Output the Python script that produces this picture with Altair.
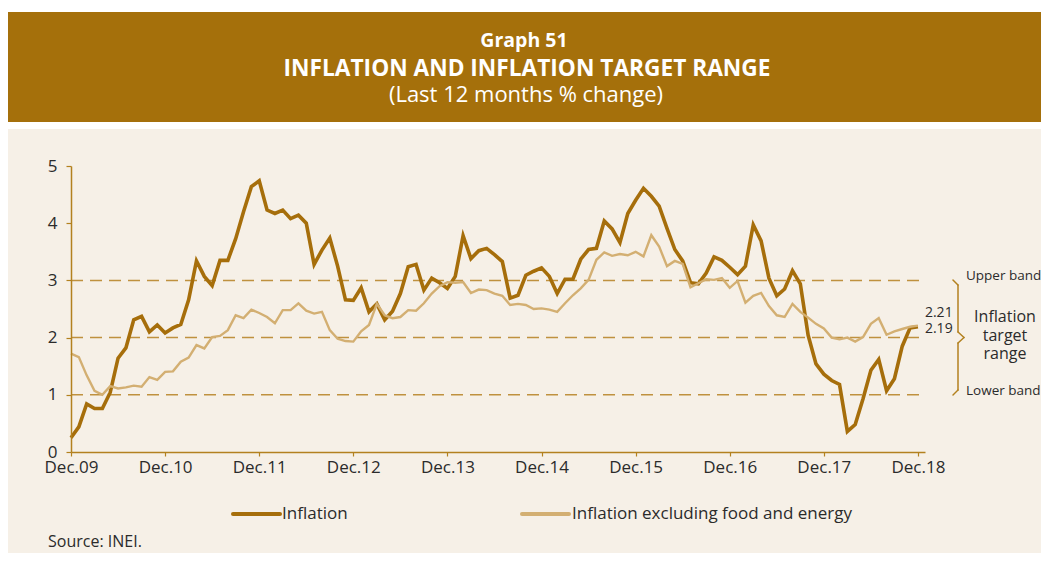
import altair as alt
import pandas as pd

# ---------------- data ----------------
months = list(range(109))  # months since Dec.09
inflation = [0.25, 0.44, 0.84, 0.76, 0.76, 1.04, 1.64, 1.82, 2.31, 2.37, 2.10, 2.22,
             2.08, 2.17, 2.23, 2.66, 3.34, 3.07, 2.91, 3.35, 3.35, 3.73, 4.20, 4.64,
             4.74, 4.23, 4.17, 4.23, 4.08, 4.14, 4.00, 3.28, 3.53, 3.74, 3.25, 2.66,
             2.65, 2.87, 2.45, 2.59, 2.31, 2.46, 2.77, 3.24, 3.28, 2.83, 3.04, 2.96,
             2.86, 3.07, 3.78, 3.38, 3.52, 3.56, 3.45, 3.33, 2.69, 2.74, 3.09, 3.16,
             3.22, 3.07, 2.77, 3.02, 3.02, 3.37, 3.54, 3.56, 4.04, 3.90, 3.66, 4.17,
             4.40, 4.61, 4.47, 4.30, 3.91, 3.54, 3.34, 2.96, 2.94, 3.13, 3.41, 3.35,
             3.23, 3.10, 3.25, 3.97, 3.69, 3.04, 2.73, 2.85, 3.17, 2.94, 2.04, 1.54,
             1.36, 1.25, 1.18, 0.36, 0.48, 0.93, 1.43, 1.62, 1.07, 1.28, 1.85, 2.17,
             2.19]
core = [1.72, 1.66, 1.34, 1.07, 1.00, 1.15, 1.11, 1.13, 1.16, 1.14, 1.31, 1.26,
        1.40, 1.41, 1.58, 1.65, 1.87, 1.81, 2.01, 2.03, 2.13, 2.39, 2.34, 2.49,
        2.43, 2.36, 2.25, 2.48, 2.48, 2.60, 2.47, 2.42, 2.45, 2.13, 1.98, 1.94,
        1.93, 2.11, 2.22, 2.59, 2.39, 2.34, 2.36, 2.48, 2.47, 2.60, 2.77, 2.90,
        2.97, 2.96, 2.97, 2.78, 2.84, 2.83, 2.77, 2.73, 2.57, 2.59, 2.57, 2.50,
        2.51, 2.49, 2.45, 2.60, 2.74, 2.86, 3.01, 3.36, 3.49, 3.43, 3.46, 3.44,
        3.50, 3.42, 3.79, 3.59, 3.25, 3.34, 3.29, 2.88, 2.95, 3.02, 3.01, 3.04,
        2.87, 2.99, 2.61, 2.73, 2.78, 2.55, 2.39, 2.36, 2.59, 2.45, 2.35, 2.24,
        2.16, 2.00, 1.97, 2.00, 1.93, 2.01, 2.24, 2.34, 2.05, 2.11, 2.15, 2.19,
        2.21]
series_names = ["Inflation", "Inflation excluding food and energy"]
band_values = [1, 2, 3]
tick_months = list(range(0, 109, 12))
y_ticks = [0, 1, 2, 3, 4, 5]

# ---------------- style ----------------
FONT = "Open Sans"
DARK = "#A66E0B"
LIGHT = "#D3AF72"
BROWN_AXIS = "#B3811F"
DASH = "#BF913F"
HEADER = "#A5700B"
BEIGE = "#F6F0E7"
TXT = "#2B2B2B"

W, H = 854, 286

df_inf = pd.DataFrame({"m": months, "v": inflation, "s": series_names[0]})
df_core = pd.DataFrame({"m": months, "v": core, "s": series_names[1]})
df_band = pd.DataFrame({"v": band_values})
one = pd.DataFrame({"k": [0]})

x_scale = alt.Scale(domain=[0, 108.9], nice=False, zero=False)
y_scale = alt.Scale(domain=[0, 5], nice=False)
x_axis = alt.Axis(values=tick_months, title=None, grid=False, zindex=2,
                  labelExpr="'Dec.' + format(9 + datum.value / 12, '02d')",
                  domainColor=BROWN_AXIS, domainWidth=1.5, tickColor=BROWN_AXIS,
                  tickSize=4, tickWidth=1.2, labelPadding=3, labelFont=FONT,
                  labelFontSize=17, labelColor=TXT, labelFlush=False)
y_axis = alt.Axis(values=y_ticks, title=None, grid=False, format="d", zindex=2,
                  domainColor=BROWN_AXIS, domainWidth=1.5, tickColor=BROWN_AXIS,
                  tickSize=5, tickWidth=1.2, labelPadding=9, labelFont=FONT,
                  labelFontSize=17, labelColor=TXT)
X = alt.X("m:Q", scale=x_scale, axis=x_axis)
Y = alt.Y("v:Q", scale=y_scale, axis=y_axis)


def rect(x1, x2, y1, y2, color):
    return alt.Chart(one).mark_rect(color=color).encode(
        x=alt.value(x1), x2=alt.value(x2), y=alt.value(y1), y2=alt.value(y2))


def seg(x1, y1, x2, y2, color=BROWN_AXIS, w=1.5):
    return alt.Chart(one).mark_rule(color=color, strokeWidth=w, strokeCap="round").encode(
        x=alt.value(x1), x2=alt.value(x2), y=alt.value(y1), y2=alt.value(y2))


def txt(t, x, y, size, weight="normal", align="left", color=TXT, baseline="middle"):
    return alt.Chart(one).mark_text(
        text=t, font=FONT, fontSize=size, fontWeight=weight, align=align,
        baseline=baseline, color=color).encode(x=alt.value(x), y=alt.value(y))


layers = [
    rect(-63, 975, -37, 400, BEIGE),
    rect(-63, 975, -154, -44, HEADER),
    txt("Graph 51", 453, -119, 19.5, "bold", "center", "white", "alphabetic"),
    txt("INFLATION AND INFLATION TARGET RANGE", 456, -90, 22.7, "bold", "center", "white", "alphabetic"),
    txt("(Last 12 months % change)", 455, -64, 22, "normal", "center", "white", "alphabetic"),
    alt.Chart(df_band).mark_rule(color=DASH, strokeWidth=1.5, strokeDash=[12, 7]).encode(
        y=Y, x=alt.value(0), x2=alt.value(851)),
    alt.Chart(df_inf).mark_line(color=DARK, strokeWidth=3.6, strokeJoin="miter").encode(x=X, y=Y),
    alt.Chart(df_core).mark_line(color=LIGHT, strokeWidth=2.4).encode(x=X, y=Y),
    alt.Chart(df_core).transform_filter(alt.datum.m == 108).mark_text(
        font=FONT, fontSize=14, align="left", dx=7, dy=-13, color=TXT).encode(
        x=X, y=Y, text=alt.Text("v:Q", format=".2f")),
    alt.Chart(df_inf).transform_filter(alt.datum.m == 108).mark_text(
        font=FONT, fontSize=14, align="left", dx=7, dy=2, color=TXT).encode(
        x=X, y=Y, text=alt.Text("v:Q", format=".2f")),
    # brace
    seg(882, 114, 887, 119), seg(887, 119, 887, 166), seg(887, 166, 893, 171.5),
    seg(893, 171.5, 887, 177), seg(887, 177, 887, 224), seg(887, 224, 882, 229),
    txt("Upper band", 895, 110, 13.5),
    txt("Lower band", 895, 225, 13.5),
    txt("Inflation", 934, 151, 16, align="center"),
    txt("target", 934, 170, 16, align="center"),
    txt("range", 934, 188, 16, align="center"),
    # legend
    seg(162, 348, 209, 348, DARK, 4),
    txt(series_names[0], 211, 348, 17),
    seg(451, 348, 498, 348, LIGHT, 4),
    txt(series_names[1], 501, 348, 17),
    txt("Source: INEI.", -23, 376, 16),
]

chart = alt.layer(*layers).properties(
    width=W, height=H,
    autosize=alt.AutoSizeParams(type="none"),
    padding={"left": 63, "top": 158, "right": 116, "bottom": 101},
    background="white",
).configure_view(strokeWidth=0)

chart.save("out.html", embed_options={"renderer": "svg", "actions": False})
